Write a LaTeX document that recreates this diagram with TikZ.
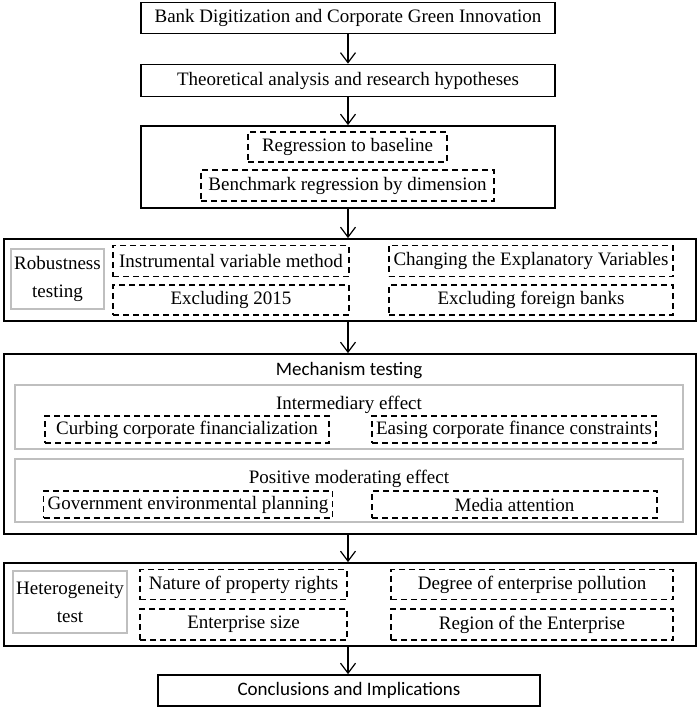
\documentclass[tikz,border=0pt]{standalone}
\usepackage{fontspec}
\setmainfont{Liberation Serif}
\newfontfamily\sansf{Carlito}
\usetikzlibrary{arrows.meta}
\begin{document}
\begin{tikzpicture}[x=1pt,y=-1pt,
  every node/.style={font=\fontsize{19}{28}\selectfont, inner sep=0pt, align=center},
  outer/.style={draw=black, line width=1.7pt, rectangle},
  dbox/.style={draw=black, line width=1.3pt, dash pattern=on 6pt off 4pt, rectangle},
  gbox/.style={draw=black!25, line width=1.6pt, rectangle},
  arr/.style={line width=1.2pt, -{Straight Barb[length=10pt,width=15pt,line width=1.2pt]}},
  sz/.style 2 args={minimum width=#1pt, minimum height=#2pt}
]
\useasboundingbox (0,0) rectangle (699,708);
% top boxes
\node[outer, sz={414}{31}] (b1) at (348,18) {Bank Digitization and Corporate Green Innovation};
\node[outer, sz={414}{32}] (b2) at (348,80.5) {Theoretical analysis and research hypotheses};
\node[outer, sz={414}{82}] (b3) at (348,167) {};
\node[dbox, sz={199}{30}] (d1) at (347.5,147) {Regression to baseline};
\node[dbox, sz={293}{31}] (d2) at (347.5,185.5) {Benchmark regression by dimension};
% robustness
\node[outer, sz={692}{82}] (b4) at (350,280) {};
\node[gbox, sz={93}{60}] (g4) at (57.5,279) {Robustness\\testing};
\node[dbox, sz={236}{31}] (r1) at (231,261) {Instrumental variable method};
\node[dbox, sz={236}{30}] (r2) at (231,300) {Excluding 2015};
\node[dbox, sz={284}{31}] (r3) at (531,261) {Changing the Explanatory Variables};
\node[dbox, sz={284}{30}] (r4) at (531,300) {Excluding foreign banks};
% mechanism
\node[outer, sz={692}{180}] (b5) at (350,444) {};
\node[font=\sansf\fontsize{19}{23}\selectfont] (mt) at (349,371) {Mechanism testing};
\node[gbox, sz={668}{64}] (g51) at (349,417) {};
\node (ie) at (349,405) {Intermediary effect};
\node[dbox, sz={284}{27}] (m1) at (187,429.5) {Curbing corporate financialization};
\node[dbox, sz={284}{27}] (m2) at (514,429.5) {Easing corporate finance constraints};
\node[gbox, sz={668}{63}] (g52) at (349,490.5) {};
\node (pm) at (349,479) {Positive moderating effect};
\node[dbox, sz={289}{27}] (m3) at (188,504.5) {Government environmental planning};
\node[dbox, sz={285}{27}] (m4) at (514.5,504.5) {Media attention};
% heterogeneity
\node[outer, sz={692}{83}] (b6) at (350,604.5) {};
\node[gbox, sz={114}{62}] (g6) at (70,602) {Heterogeneity\\test};
\node[dbox, sz={207}{30}] (h1) at (243.5,584.5) {Nature of property rights};
\node[dbox, sz={207}{31}] (h2) at (243.5,624.5) {Enterprise size};
\node[dbox, sz={282}{30}] (h3) at (532,584.5) {Degree of enterprise pollution};
\node[dbox, sz={282}{31}] (h4) at (532,624.5) {Region of the Enterprise};
% conclusion
\node[outer, sz={382}{31}, font=\sansf\fontsize{19}{23}\selectfont] (b7) at (349,690.5) {Conclusions and Implications};
% arrows
\draw[arr] (b1.south) -- (b2.north);
\draw[arr] (b2.south) -- (b3.north);
\draw[arr] (b3.south) -- (b3.south |- b4.north);
\draw[arr] (b3.south |- b4.south) -- (b3.south |- b5.north);
\draw[arr] (b3.south |- b5.south) -- (b3.south |- b6.north);
\draw[arr] (b3.south |- b6.south) -- (b3.south |- b7.north);
\end{tikzpicture}
\end{document}
